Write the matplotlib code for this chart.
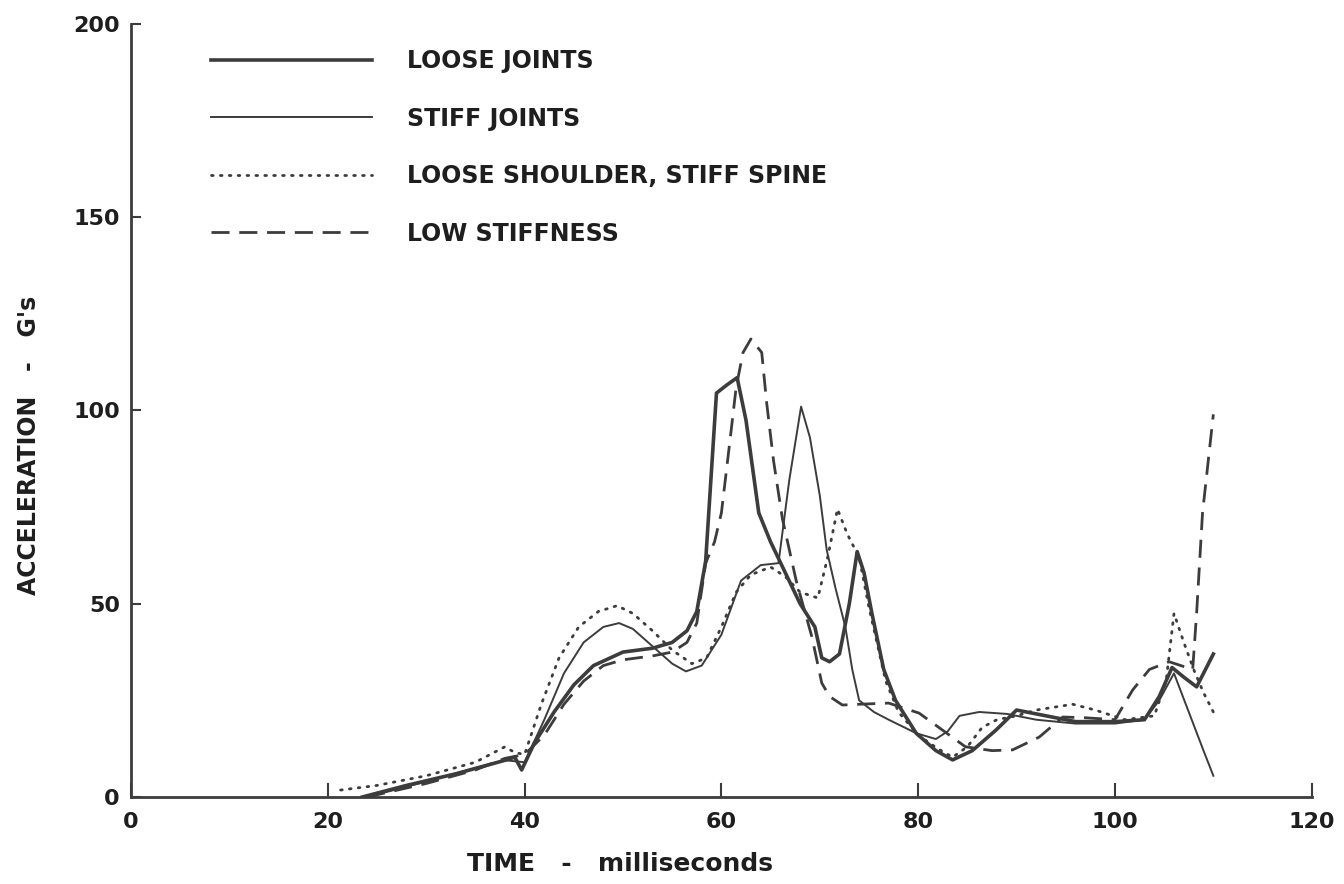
import matplotlib
matplotlib.use('Agg')
import matplotlib.pyplot as plt

# ---- data (time in ms, acceleration in G's) ----
loose_t = [23.5, 28, 33, 38, 39, 39.7, 41, 43, 45, 47, 50, 53, 55, 56.5, 57.5, 58.4, 59.5,
           60.5, 61.6, 62.5, 63.8, 65, 66.5, 68, 69, 69.5, 70.2, 71, 72, 73, 73.8, 74.5, 75.3,
           76.5, 77.7, 79.8, 81.8, 83.5, 85.5, 87.9, 90, 91, 93, 96, 100, 103, 104.5, 105.8,
           107, 108.3, 110]
loose_a = [0, 3, 6, 9.5, 10.3, 7, 14, 22, 29, 34, 37.5, 38.5, 40, 43, 48, 61, 104.5,
           106.5, 108.5, 97.5, 73.5, 66, 58, 50, 46, 44, 36, 35, 37, 50, 63.5, 58, 47.5,
           33, 25, 16.5, 12, 9.6, 12, 17.3, 22.5, 22, 21, 19.5, 19.5, 20, 26, 33.5,
           31, 28.5, 37]

stiff_t = [24, 30, 35, 38, 40, 42, 44, 46, 48, 49.6, 51, 53, 55, 56.4, 58, 60, 62, 64, 65.8,
           66.9, 68.1, 69, 70, 70.7, 71.6, 72.6, 73.3, 74, 75.5, 77, 79.8, 81.8, 83, 84.2,
           86.2, 89, 92, 96, 100, 103, 104.5, 106, 107.5, 109, 110]
stiff_a = [0, 4, 7.5, 9.5, 9, 20, 32, 40, 44, 45, 43.5, 39, 34.5, 32.5, 34, 42, 56, 60, 60.5,
           82, 101, 93, 78, 64, 54, 44, 33, 25, 22, 20, 16.5, 15, 17, 21,
           22, 21.5, 20, 19, 19, 20, 25, 32, 22, 12, 5.5]

shoulder_t = [21.3, 25, 30, 35, 38, 39, 40, 41.7, 43.5, 45.5, 47.5, 49.4, 51, 53, 55, 57, 58.5,
              60, 61.5, 63, 65, 66.5, 68, 69.8, 70.8, 71.8, 72.8, 74, 75, 76.7, 78, 80, 82,
              83.5, 85, 86.5, 88, 90, 92, 95.7, 98, 101, 104, 105.2, 106, 107, 108, 109, 110]
shoulder_a = [1.8, 3, 5.5, 9, 13, 11.5, 11, 24, 36, 44, 48, 49.5, 47.5, 43, 38, 34.5, 36,
              44, 53, 57.5, 59.5, 57, 53, 51.5, 62, 74.5, 68, 62, 49, 30, 22, 16, 12.5,
              10.3, 13, 18, 20, 21, 22.5, 24, 22.5, 20, 21, 30, 47.5, 40, 33, 27, 22]

low_t = [24, 30, 35, 38, 40, 42, 44, 46, 48, 50, 53, 55, 56.5, 57.5, 58.4, 59.3, 60, 61,
         61.5, 62.2, 63, 64.1, 64.6, 65.3, 66.2, 67.6, 69.2, 70.2, 71, 72.3, 74, 77, 80.1,
         82.1, 84.8, 87.5, 89.6, 92.3, 94.7, 97, 100, 101.8, 103.5, 105.5, 107.9, 108.3,
         108.9, 110]
low_a = [0, 3.5, 7, 10, 11, 16, 24, 30, 34, 35.5, 36.5, 37.5, 40, 45, 60.5, 66, 73.5, 95,
         106, 115, 118.5, 115, 102, 87, 72, 56, 41.4, 29.5, 26, 23.8, 24, 24.3, 21.7,
         18, 13, 12, 12.2, 15.5, 20.7, 20.5, 20, 27.7, 33, 35, 33, 47.6,
         73.5, 99]

labels = ['LOOSE JOINTS', 'STIFF JOINTS', 'LOOSE SHOULDER, STIFF SPINE', 'LOW STIFFNESS']
x_ticks = [0, 20, 40, 60, 80, 100, 120]
y_ticks = [0, 50, 100, 150, 200]

INK = '#3c3c3c'
TEXT = '#1e1e1e'

plt.rcParams['font.family'] = ['DejaVu Sans']

fig = plt.figure(figsize=(13.44, 8.84), dpi=100)
ax = fig.add_axes([0.0975, 0.0984, 0.8785, 0.8745])

ax.plot(loose_t, loose_a, color=INK, lw=2.6, solid_joinstyle='round', label=labels[0])
ax.plot(stiff_t, stiff_a, color=INK, lw=1.4, label=labels[1])
ax.plot(shoulder_t, shoulder_a, color=INK, lw=2.0, linestyle=(0, (0.6, 2.6)),
        dash_capstyle='round', label=labels[2])
ax.plot(low_t, low_a, color=INK, lw=2.0, linestyle=(0, (6.5, 3.5)), label=labels[3])

ax.set_xlim(0, 120)
ax.set_ylim(0, 200)
ax.set_xticks(x_ticks)
ax.set_yticks(y_ticks)
ax.tick_params(axis='x', direction='in', length=10, width=1.5, color=INK,
               labelcolor=TEXT, labelsize=16, pad=11)
ax.tick_params(axis='y', direction='in', length=7, width=1.5, color=INK,
               labelcolor=TEXT, labelsize=16, pad=8)
for lab in ax.get_xticklabels() + ax.get_yticklabels():
    lab.set_fontweight('bold')
for side in ['top', 'right']:
    ax.spines[side].set_visible(False)
for side in ['left', 'bottom']:
    ax.spines[side].set_color(INK)
    ax.spines[side].set_linewidth(2)

ax.set_xlabel('TIME   -   milliseconds', fontsize=18, fontweight='bold', color=TEXT)
ax.xaxis.set_label_coords(0.414, -0.071)
ax.set_ylabel("ACCELERATION   -   G's", fontsize=17, fontweight='bold', color=TEXT)
ax.yaxis.set_label_coords(-0.076, 0.455)

leg = ax.legend(loc='upper left', bbox_to_anchor=(0.05, 0.995), frameon=False,
                prop={'size': 17, 'weight': 'bold'}, handlelength=6.8,
                handletextpad=1.5, labelspacing=1.42, labelcolor=TEXT)

plt.savefig('out.png', dpi=100)
